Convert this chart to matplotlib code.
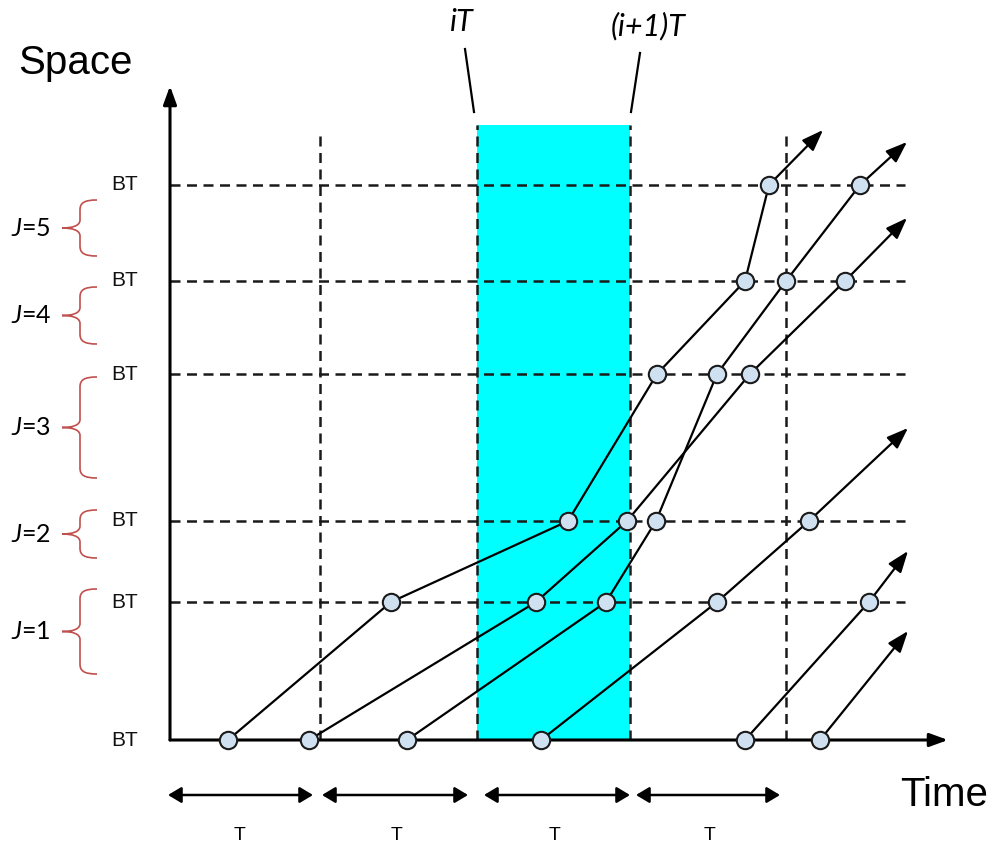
import matplotlib
matplotlib.use('Agg')
import matplotlib.pyplot as plt
from matplotlib.patches import Rectangle, FancyArrowPatch, PathPatch
from matplotlib.path import Path

plt.rcParams['mathtext.fontset'] = 'custom'
plt.rcParams['mathtext.it'] = 'Lato:italic'
plt.rcParams['mathtext.rm'] = 'Lato'

# ---------------- data (diagram coordinates, pixel-like, y grows downward) -------------
origin_x, origin_y = 170, 740
x_axis_end = 948
y_axis_end = 86
bt_levels = [740, 602, 521, 374, 281, 185]          # block-boundary positions (space)
grid_right = 905
period_lines = [320, 477, 630, 786]                 # period boundaries (time)
period_tops = [130, 125, 125, 130]
window_left, window_right, window_top = 477, 630, 125

# vehicle trajectories: x (time) and y (space) of each boundary crossing
traj_x = [
    [228, 391, 568, 657, 745, 769],
    [309, 536, 627, 750, 845],
    [407, 606, 656, 717, 786, 860],
    [541, 717, 809],
    [745, 869],
    [820],
]
traj_y = [
    [740, 602, 521, 374, 281, 185],
    [740, 602, 521, 374, 281],
    [740, 602, 521, 374, 281, 185],
    [740, 602, 521],
    [740, 602],
    [740],
]
arrow_tip_x = [823, 907, 907, 908, 908, 908]
arrow_tip_y = [130, 218, 142, 428, 551, 631]

# block labels and braces
j_labels = ['1', '2', '3', '4', '5']
brace_top = [589, 510, 377, 287, 200]
brace_bot = [674, 558, 478, 344, 256]

# period markers at the bottom
period_arrow_left = [168, 322, 484, 636]
period_arrow_right = [313, 468, 630, 780]
period_label_x = [240, 397, 555, 710]

# ---------------- figure -------------
fig = plt.figure(figsize=(9.92, 8.46), dpi=100)
ax = fig.add_axes([0, 0, 1, 1])
ax.set_xlim(0, 992)
ax.set_ylim(846, 0)
ax.axis('off')

dark = '#1a1a1a'
# cyan observation window
ax.add_patch(Rectangle((window_left, window_top), window_right - window_left,
                       origin_y - window_top, facecolor='#00ffff', edgecolor='none', zorder=1))

# dashed grid
for y in bt_levels[1:]:
    ax.plot([origin_x, grid_right], [y, y], color=dark, lw=1.8, dashes=(4.0, 2.6), zorder=2)
for x, top in zip(period_lines, period_tops):
    ax.plot([x, x], [origin_y, top], color=dark, lw=1.8, dashes=(4.0, 2.6), zorder=2)

# axes with arrows
axis_style = '-|>,head_length=0.55,head_width=0.2'
ax.add_patch(FancyArrowPatch((origin_x, origin_y), (x_axis_end, origin_y), arrowstyle=axis_style,
                             mutation_scale=20, lw=2.2, color='black', zorder=3,
                             shrinkA=0, shrinkB=0))
ax.add_patch(FancyArrowPatch((origin_x, origin_y), (origin_x, y_axis_end), arrowstyle=axis_style,
                             mutation_scale=20, lw=2.2, color='black', zorder=3,
                             shrinkA=0, shrinkB=0))

# trajectories
traj_style = '-|>,head_length=0.65,head_width=0.24'
for xs, ys, tx, ty in zip(traj_x, traj_y, arrow_tip_x, arrow_tip_y):
    ax.plot(xs, ys, color='black', lw=1.6, zorder=4)
    ax.add_patch(FancyArrowPatch((xs[-1], ys[-1]), (tx, ty), arrowstyle=traj_style,
                                 mutation_scale=20, lw=1.6, color='black', zorder=4,
                                 shrinkA=0, shrinkB=0))
    ax.plot(xs, ys, linestyle='none', marker='o', markersize=12.5, markerfacecolor='#cfe0f1',
            markeredgecolor=dark, markeredgewidth=1.5, zorder=5)

# BT labels
for y in bt_levels:
    ax.text(125, y, 'BT', ha='center', va='center', fontsize=15,
            family='Liberation Sans', color='#111111')

# braces and J labels
red = '#c0504d'
for lab, t, b in zip(j_labels, brace_top, brace_bot):
    m = (t + b) / 2
    verts = [(97, t), (84, t), (80, t + 3), (80, t + 10),
             (80, m - 8),
             (80, m - 2), (72, m), (62, m),
             (72, m), (80, m + 2), (80, m + 8),
             (80, b - 10),
             (80, b - 3), (84, b), (97, b)]
    codes = [Path.MOVETO, Path.CURVE4, Path.CURVE4, Path.CURVE4,
             Path.LINETO,
             Path.CURVE4, Path.CURVE4, Path.CURVE4,
             Path.CURVE4, Path.CURVE4, Path.CURVE4,
             Path.LINETO,
             Path.CURVE4, Path.CURVE4, Path.CURVE4]
    ax.add_patch(PathPatch(Path(verts, codes), facecolor='none', edgecolor=red, lw=1.2, zorder=3))
    ax.text(31, m, r'$J$=' + lab, ha='center', va='center', fontsize=18, family='Lato')

# axis titles
ax.text(75, 63, 'Space', ha='center', va='center', fontsize=29, family='Liberation Sans')
ax.text(944, 795, 'Time', ha='center', va='center', fontsize=29, family='Liberation Sans')

# window labels with leader lines
ax.text(462, 22, 'iT', ha='center', va='center', fontsize=22, family='Lato', style='italic')
ax.text(648, 26, '(i+1)T', ha='center', va='center', fontsize=22, family='Lato', style='italic')
ax.plot([465, 474], [49, 112], color='black', lw=1.6)
ax.plot([640, 631], [53, 112], color='black', lw=1.6)

# period arrows
for xl, xr, xt in zip(period_arrow_left, period_arrow_right, period_label_x):
    ax.add_patch(FancyArrowPatch((xl, 795), (xr, 795), arrowstyle='<|-|>,head_length=0.5,head_width=0.3',
                                 mutation_scale=16, lw=1.8, color='black', shrinkA=0, shrinkB=0))
    ax.text(xt, 836, 'T', ha='center', va='center', fontsize=14, family='Liberation Sans')

fig.savefig('out.png', dpi=100)
